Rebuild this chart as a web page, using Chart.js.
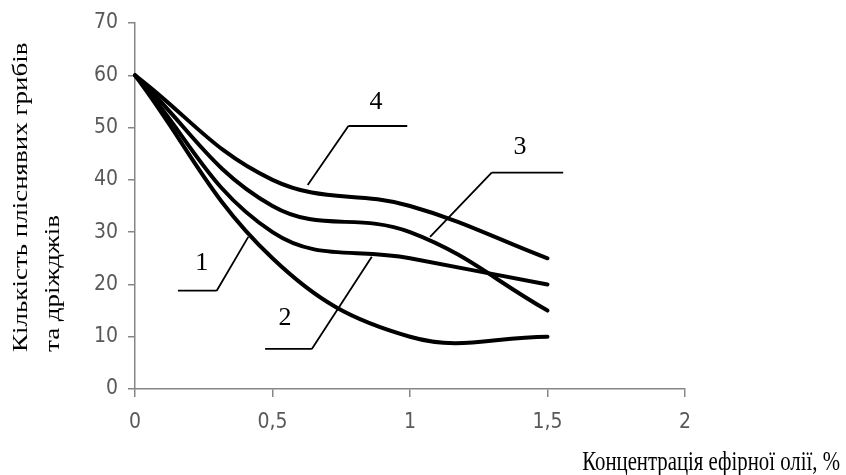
<!DOCTYPE html>
<html>
<head>
<meta charset="utf-8">
<script src="https://cdn.jsdelivr.net/npm/chart.js@4"></script>
<style>
  html, body { margin: 0; padding: 0; background: #fff; }
  #wrap { position: relative; width: 846px; height: 475px; }
</style>
</head>
<body>
<div id="wrap"><canvas id="moldChart" width="846" height="475"></canvas></div>
<script>
// Data
const concentrations = [0, 0.5, 1, 1.5];
const curve1 = [60, 25, 10, 10];
const curve2 = [60, 30, 25, 20];
const curve3 = [60, 35, 30, 15];
const curve4 = [60, 40, 35, 25];
const xTickValues = [0, 0.5, 1, 1.5, 2];
const xTickLabels = ['0', '0,5', '1', '1,5', '2'];
const yTickValues = [0, 10, 20, 30, 40, 50, 60, 70];
const curveNames = ['1', '2', '3', '4'];
const xTitle = 'Концентрація ефірної олії, %';
const yTitle = ['Кількість пліснявих грибів', 'та дріжджів'];

// leader lines for the curve numbers, in data units: [text x, text y, shelf x1, shelf x2, shelf y, tip x, tip y]
const leaders = [
  [0.243, 24.0, 0.156, 0.297, 18.8, 0.412, 29.1],
  [0.545, 13.6, 0.473, 0.643, 7.66, 0.861, 25.3],
  [1.400, 46.3, 1.297, 1.557, 41.4, 1.073, 29.1],
  [0.876, 54.9, 0.776, 0.990, 50.3, 0.628, 39.0]
];

const AXIS_GRAY = '#868686';
const TICK_FONT = "'Liberation Sans Narrow', 'DejaVu Sans Condensed', sans-serif";
const SERIF = "'Liberation Serif', 'DejaVu Serif', serif";
const SQUEEZE = 0.77; // the original picture is squeezed sideways

function toPoints(ys) {
  return concentrations.map((x, i) => ({ x: x, y: ys[i] }));
}

function makeSet(name, ys) {
  return {
    label: name,
    data: toPoints(ys),
    borderColor: '#000',
    borderWidth: 4,
    borderCapStyle: 'round',
    borderJoinStyle: 'round',
    pointRadius: 0,
    tension: 0.4,
    fill: false,
    clip: false
  };
}

// numbers, leader lines and axis titles
const annotations = {
  id: 'annotations',
  afterDraw(chart) {
    const ctx = chart.ctx;
    const xs = chart.scales.x, ys = chart.scales.y;
    const area = chart.chartArea;
    ctx.save();

    ctx.strokeStyle = '#000';
    ctx.lineWidth = 1.8;
    ctx.fillStyle = '#000';
    ctx.font = '26px ' + SERIF;
    ctx.textAlign = 'center';
    ctx.textBaseline = 'middle';
    leaders.forEach((l, i) => {
      const sx1 = xs.getPixelForValue(l[2]);
      const sx2 = xs.getPixelForValue(l[3]);
      const sy = ys.getPixelForValue(l[4]);
      const tx = xs.getPixelForValue(l[5]);
      const ty = ys.getPixelForValue(l[6]);
      // the diagonal starts from the shelf end nearer the tip
      const jx = Math.abs(sx1 - tx) < Math.abs(sx2 - tx) ? sx1 : sx2;
      ctx.beginPath();
      ctx.moveTo(sx1, sy);
      ctx.lineTo(sx2, sy);
      ctx.moveTo(jx, sy);
      ctx.lineTo(tx, ty);
      ctx.stroke();
      ctx.fillText(curveNames[i], xs.getPixelForValue(l[0]), ys.getPixelForValue(l[1]));
    });

    // axis titles
    ctx.font = '27px ' + SERIF;
    ctx.textBaseline = 'alphabetic';

    ctx.save();
    ctx.translate(chart.width - 6, area.bottom + 81);
    ctx.scale(SQUEEZE, 1);
    ctx.textAlign = 'right';
    ctx.fillText(xTitle, 0, 0);
    ctx.restore();

    ctx.textAlign = 'left';
    [27, 59].forEach((bx, i) => {
      ctx.save();
      ctx.translate(bx, area.bottom - 37);
      ctx.rotate(-Math.PI / 2);
      ctx.scale(1, SQUEEZE);
      ctx.fillText(yTitle[i], 0, 0);
      ctx.restore();
    });
    ctx.restore();
  }
};

function initChart() {
  const ctx = document.getElementById('moldChart').getContext('2d');
  return new Chart(ctx, {
    type: 'line',
    data: {
      datasets: [
        makeSet(curveNames[0], curve1),
        makeSet(curveNames[1], curve2),
        makeSet(curveNames[2], curve3),
        makeSet(curveNames[3], curve4)
      ]
    },
    options: {
      responsive: false,
      devicePixelRatio: 1,
      animation: false,
      layout: { padding: { top: 23, right: 161, left: 0, bottom: 0 } },
      plugins: { legend: { display: false }, tooltip: { enabled: false } },
      scales: {
        x: {
          type: 'linear',
          min: 0,
          max: 2,
          afterBuildTicks: s => { s.ticks = xTickValues.map(v => ({ value: v })); },
          afterFit: s => { s.height = 86; },
          grid: { drawOnChartArea: false, tickLength: 8, color: AXIS_GRAY, lineWidth: 1.5 },
          border: { display: true, color: AXIS_GRAY, width: 1.5 },
          ticks: {
            padding: 13,
            color: '#595959',
            font: { family: TICK_FONT, size: 21 },
            maxRotation: 0,
            callback: (v) => xTickLabels[xTickValues.indexOf(v)]
          }
        },
        y: {
          min: 0,
          max: 70,
          afterBuildTicks: s => { s.ticks = yTickValues.map(v => ({ value: v })); },
          afterFit: s => { s.width = 135; },
          grid: { drawOnChartArea: false, tickLength: 7, color: AXIS_GRAY, lineWidth: 1.5 },
          border: { display: true, color: AXIS_GRAY, width: 1.5 },
          ticks: {
            padding: 10,
            color: '#595959',
            font: { family: TICK_FONT, size: 21 }
          }
        }
      }
    },
    plugins: [annotations]
  });
}

document.addEventListener('DOMContentLoaded', () => {
  initChart();
});
</script>
</body>
</html>
